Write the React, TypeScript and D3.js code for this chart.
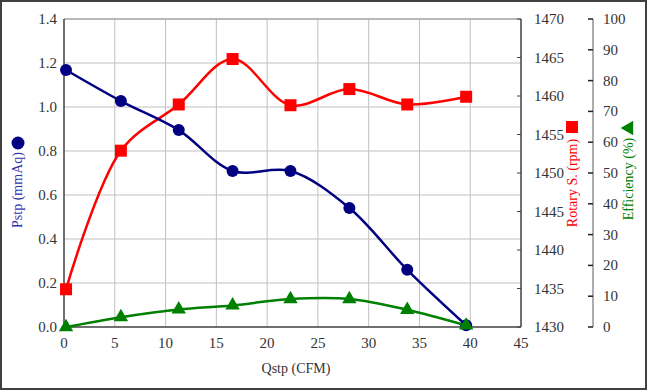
import * as d3 from "d3";
import React, { useEffect, useRef } from "react";

// values
const qstp = [0.2, 5.6, 11.3, 16.6, 22.3, 28.1, 33.8, 39.6];
const pstp = [1.168, 1.027, 0.895, 0.709, 0.709, 0.541, 0.26, 0.008];
const rpm = [1434.9, 1452.9, 1458.9, 1464.8, 1458.8, 1460.9, 1458.9, 1459.9];
const efficiency = [0, 3.2, 5.7, 7.0, 9.1, 9.1, 5.6, 0.5];

const xTicks = [0, 5, 10, 15, 20, 25, 30, 35, 40, 45];
const pTicks = [0, 0.2, 0.4, 0.6, 0.8, 1.0, 1.2, 1.4];
const rpmTicks = [1430, 1435, 1440, 1445, 1450, 1455, 1460, 1465, 1470];
const effTicks = [0, 10, 20, 30, 40, 50, 60, 70, 80, 90, 100];

export default function App() {
  const svgRef = useRef<SVGSVGElement>(null);
  const W = 647;
  const H = 390;
  const left = 64;
  const right = 521;
  const top = 19;
  const bottom = 327;
  const effAxisX = 593;
  const font = "Liberation Serif, serif";

  useEffect(() => {
    const svg = d3.select(svgRef.current);
    svg.selectAll("*").remove();

    const x = d3.scaleLinear().domain([0, 45]).range([left, right]);
    const yP = d3.scaleLinear().domain([0, 1.4]).range([bottom, top]);
    const yR = d3.scaleLinear().domain([1430, 1470]).range([bottom, top]);
    const yE = d3.scaleLinear().domain([0, 100]).range([bottom, top]);

    const txt = (xx: number, yy: number, s: string | number, fill = "#333", anchor = "start", size = 15) =>
      svg.append("text").attr("x", xx).attr("y", yy).attr("text-anchor", anchor)
        .style("font-family", font).style("font-size", size + "px").attr("fill", fill).text(s);

    svg.append("rect").attr("width", W).attr("height", H).attr("fill", "#fff");
    svg.append("rect")
      .attr("x", 1).attr("y", 1).attr("width", W - 2).attr("height", H - 2)
      .attr("fill", "none").attr("stroke", "#404040").attr("stroke-width", 2);

    // grid
    const grid = svg.append("g").attr("stroke", "#c0c0c0").attr("stroke-width", 1);
    xTicks.slice(1, -1).forEach((t) => {
      grid.append("line").attr("x1", x(t)).attr("x2", x(t)).attr("y1", top).attr("y2", bottom);
    });
    pTicks.slice(1).forEach((t) => {
      grid.append("line").attr("x1", left).attr("x2", right).attr("y1", yP(t)).attr("y2", yP(t));
    });
    grid.select("line:last-child").attr("stroke", "#a0a0a0").attr("stroke-width", 1.5);

    // axis lines
    const axes = svg.append("g").attr("stroke", "#404040").attr("stroke-width", 1.5);
    axes.append("line").attr("x1", left).attr("x2", left).attr("y1", top).attr("y2", bottom);
    axes.append("line").attr("x1", left).attr("x2", right).attr("y1", bottom).attr("y2", bottom);
    axes.append("line").attr("x1", right).attr("x2", right).attr("y1", top).attr("y2", bottom);
    svg.append("line").attr("x1", effAxisX).attr("x2", effAxisX).attr("y1", top).attr("y2", bottom)
      .attr("stroke", "#909090").attr("stroke-width", 1.5);

    rpmTicks.forEach((t) => {
      svg.append("line").attr("x1", right - 4).attr("x2", right).attr("y1", yR(t)).attr("y2", yR(t))
        .attr("stroke", "#404040").attr("stroke-width", 1);
    });
    effTicks.forEach((t) => {
      svg.append("line").attr("x1", effAxisX - 5).attr("x2", effAxisX).attr("y1", yE(t)).attr("y2", yE(t))
        .attr("stroke", "#202020").attr("stroke-width", 1.5);
    });

    xTicks.forEach((t) => txt(x(t), bottom + 21, t, "#333", "middle"));
    pTicks.forEach((t) => txt(57, yP(t) + 5, t.toFixed(1), "#333", "end"));
    rpmTicks.forEach((t) => txt(534, yR(t) + 5, t));
    effTicks.forEach((t) => txt(603, yE(t) + 5, t));

    // titles
    txt(296, 373, "Qstp (CFM)", "#333", "middle", 14);
    txt(0, 0, "Pstp (mmAq)", "#3333aa", "middle", 14).attr("transform", "translate(22,190) rotate(-90)");
    svg.append("circle").attr("cx", 18).attr("cy", 143).attr("r", 6.5).attr("fill", "#000080");
    txt(0, 0, "Rotary S. (rpm)", "#ff0000", "middle", 14).attr("transform", "translate(577,183) rotate(-90)");
    svg.append("rect").attr("x", 566).attr("y", 121).attr("width", 12).attr("height", 12).attr("fill", "#ff0000");
    txt(0, 0, "Efficiency (%)", "#008000", "middle", 14).attr("transform", "translate(633,179) rotate(-90)");
    svg.append("path").attr("d", d3.symbol(d3.symbolTriangle, 90)()!)
      .attr("transform", "translate(629,128) rotate(-90)").attr("fill", "#008000");

    // series
    const drawSeries = (vals: number[], y: d3.ScaleLinear<number, number>, color: string, marker: string) => {
      const pts = qstp.map((q, i) => [x(q), y(vals[i])] as [number, number]);
      const path = d3.line().curve(d3.curveCatmullRom.alpha(0.5));
      svg.append("path").attr("d", path(pts)!).attr("fill", "none")
        .attr("stroke", color).attr("stroke-width", 2.5);
      pts.forEach(([px, py]) => {
        if (marker === "circle") {
          svg.append("circle").attr("cx", px).attr("cy", py).attr("r", 6).attr("fill", color);
        } else if (marker === "square") {
          svg.append("rect").attr("x", px - 6).attr("y", py - 6).attr("width", 12).attr("height", 12).attr("fill", color);
        } else {
          svg.append("path").attr("d", d3.symbol(d3.symbolTriangle, 90)()!)
            .attr("transform", `translate(${px},${py})`).attr("fill", color);
        }
      });
    };
    drawSeries(rpm, yR, "#ff0000", "square");
    drawSeries(pstp, yP, "#000080", "circle");
    drawSeries(efficiency, yE, "#008000", "triangle");
  }, []);

  return (
    <svg ref={svgRef} width={W} height={H} style={{ position: "absolute", left: 0, top: 0 }} />
  );
}
